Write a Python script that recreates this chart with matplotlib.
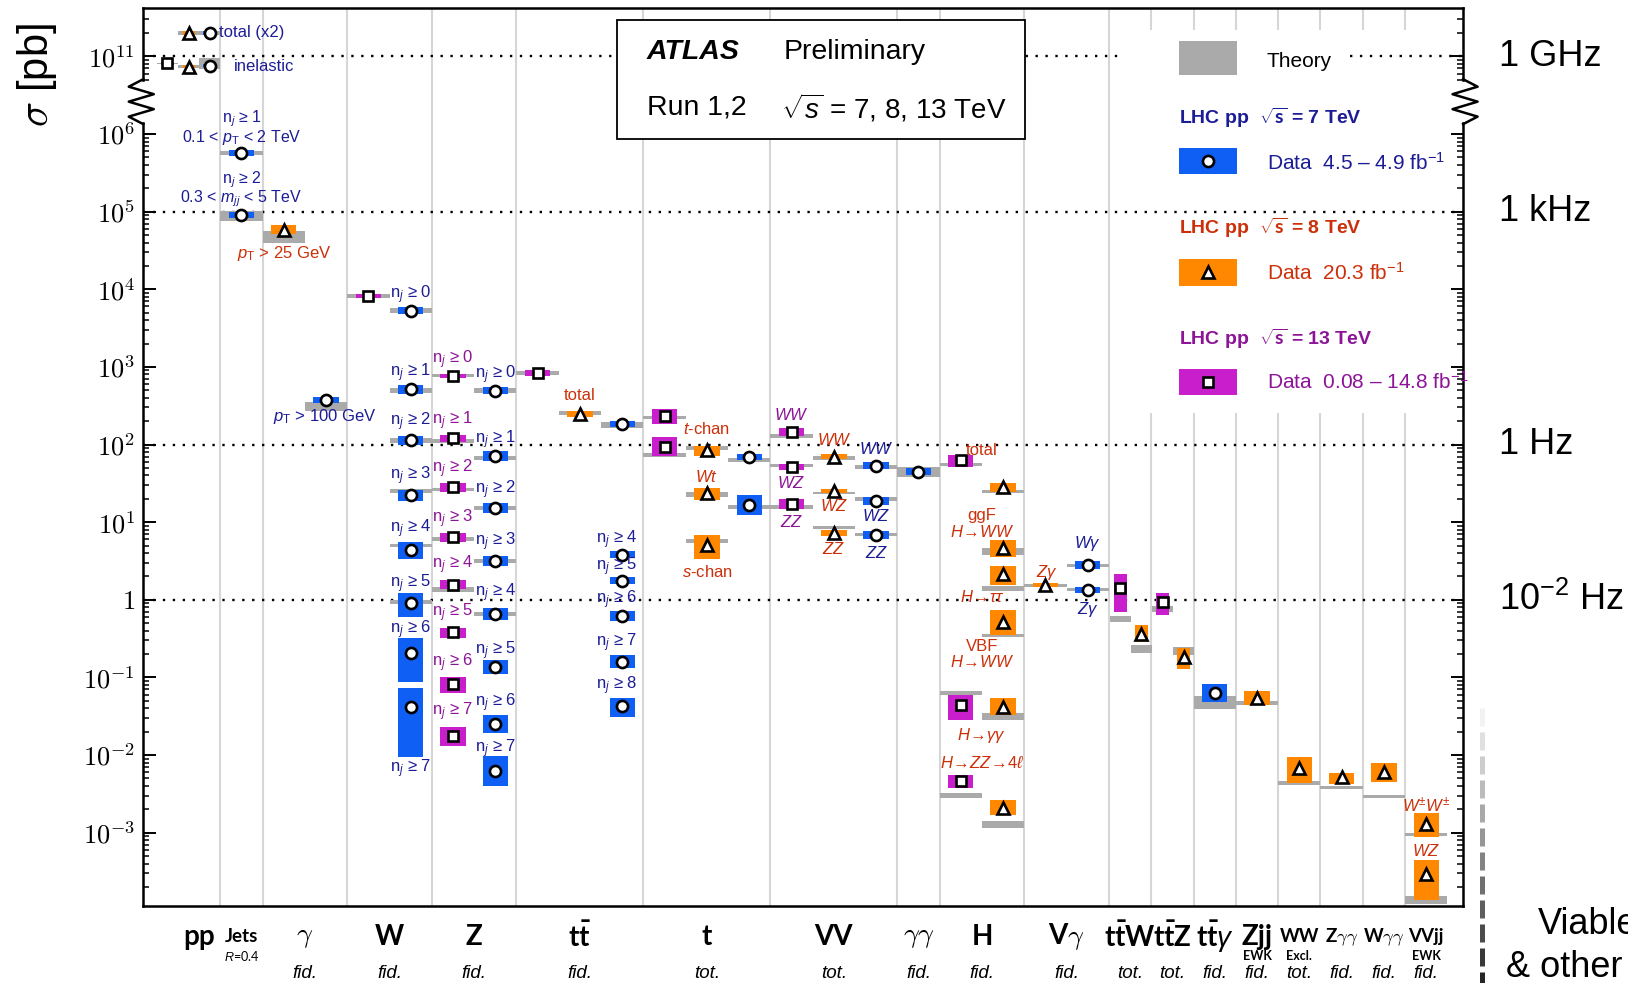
import numpy as np
import matplotlib
matplotlib.use("Agg")
import matplotlib.pyplot as plt
from matplotlib.patches import Rectangle
from matplotlib.lines import Line2D

plt.rcParams['font.family'] = ['Liberation Sans', 'DejaVu Sans']
plt.rcParams['mathtext.fontset'] = 'custom'
plt.rcParams['mathtext.rm'] = 'Liberation Sans'
plt.rcParams['mathtext.it'] = 'Liberation Sans:italic'
plt.rcParams['mathtext.bf'] = 'Lato:bold'

nan = np.nan

# -------------------------
# Data : cross sections in pb (value, data band, theory band)
# -------------------------
# sqrt(s) = 7 TeV (circles)
x7 = [0.75, 0.75, 1.5, 1.5, 3.5,
      5.5, 5.5, 5.5, 5.5, 5.5, 5.5, 5.5, 5.5,
      7.5, 7.5, 7.5, 7.5, 7.5, 7.5, 7.5, 7.5,
      10.5, 10.5, 10.5, 10.5, 10.5, 10.5,
      13.5, 13.5, 16.5, 16.5, 16.5, 17.5, 21.5, 21.5, 24.5]
sig7 = [2.0e11, 7.6e10, 5.7e5, 9.1e4, 376,
        5320, 512, 113, 22.1, 4.32, 0.898, 0.205, 0.0412,
        496, 71.3, 15.3, 3.18, 0.660, 0.137, 0.0252, 0.0063,
        185, 3.82, 1.77, 0.620, 0.160, 0.0425,
        69.1, 16.8, 52.4, 18.9, 6.86, 44.9, 2.81, 1.34, 0.0635]
lo7 = [1.9e11, 7.3e10, 5.24e5, 8.25e4, 343,
       4850, 453, 100, 19.0, 3.38, 0.601, 0.0864, 0.0094,
       453, 61.1, 13.1, 2.72, 0.548, 0.110, 0.0191, 0.00397,
       169, 3.48, 1.61, 0.532, 0.133, 0.0313,
       63.0, 12.3, 47.8, 16.8, 6.06, 40.9, 2.48, 1.22, 0.0481]
hi7 = [2.1e11, 7.9e10, 6.3e5, 9.93e4, 412,
       5830, 579, 128, 25.8, 5.53, 1.22, 0.325, 0.0741,
       545, 83.2, 17.8, 3.70, 0.794, 0.170, 0.0332, 0.0097,
       203, 4.19, 1.94, 0.723, 0.192, 0.0545,
       75.8, 22.1, 59.3, 20.8, 7.76, 49.2, 3.13, 1.47, 0.0813]
th_lo7 = [1.9e11, 6.9e10, 5.4e5, 7.6e4, 268,
          5000, 467, 106, 23.5, 4.74, 0.871, nan, nan,
          467, 63.0, 14.4, 2.98, 0.621, nan, nan, nan,
          164, nan, nan, nan, nan, nan,
          59.3, 14.8, 47.8, 18.9, 6.65, 38.5, 2.64, 1.28, 0.0388]
th_hi7 = [2.1e11, 9.5e10, 6.1e5, 1.02e5, 353,
          5660, 527, 120, 26.6, 5.20, 0.985, nan, nan,
          527, 71.3, 16.3, 3.38, 0.702, nan, nan, nan,
          197, nan, nan, nan, nan, nan,
          67.0, 16.8, 54.0, 20.8, 7.29, 50.8, 2.89, 1.40, 0.0579]

# sqrt(s) = 8 TeV (triangles)
x8 = [0.26, 0.26, 2.5, 9.5, 12.5, 12.5, 12.5, 15.5, 15.5, 15.5,
      19.5, 19.5, 19.5, 19.5, 19.5, 19.5, 20.5, 22.77, 23.77,
      25.5, 26.5, 27.5, 28.5, 29.5, 29.5]
sig8 = [2.0e11, 7.4e10, 5.88e4, 244, 85.7, 23.5, 5.04, 69.1, 25.0, 7.29,
        28.3, 4.59, 2.13, 0.516, 0.0412, 0.00208, 1.54, 0.367, 0.184,
        0.0551, 0.00691, 0.00524, 0.00611, 0.00131, 0.000290]
lo8 = [1.9e11, 7.1e10, 5.20e4, 223, 71.3, 19.5, 3.38, 65.0, 23.5, 6.65,
       24.3, 3.59, 1.55, 0.350, 0.0327, 0.00168, 1.44, 0.283, 0.129,
       0.0439, 0.00435, 0.00430, 0.00456, 0.000867, 0.000135]
hi8 = [2.1e11, 7.7e10, 6.65e4, 268, 95.5, 27.4, 6.86, 75.8, 26.6, 8.0,
       32.0, 5.88, 2.72, 0.735, 0.0536, 0.00262, 1.64, 0.470, 0.239,
       0.0665, 0.0094, 0.00593, 0.00782, 0.00177, 0.000455]
th_lo8 = [1.9e11, 7.1e10, 3.94e4, 237, 85.7, 21.4, 5.36, 63.0, 22.8, 8.12,
          23.5, 3.76, 1.30, 0.330, 0.0281, 0.00116, 1.45, 0.205, 0.192,
          0.0446, 0.00409, 0.00362, 0.00279, 0.000905, 0.000122]
th_hi8 = [2.1e11, 7.7e10, 5.70e4, 268, 97.0, 24.3, 6.06, 71.3, 24.6, 8.91,
          25.8, 4.59, 1.52, 0.367, 0.0343, 0.00144, 1.59, 0.262, 0.246,
          0.0496, 0.00463, 0.00403, 0.00310, 0.00101, 0.000140]

# sqrt(s) = 13 TeV (squares)
x13 = [-0.25, 4.5, 6.5, 6.5, 6.5, 6.5, 6.5, 6.5, 6.5, 6.5,
       8.5, 11.5, 11.5, 14.5, 14.5, 14.5, 18.5, 18.5, 18.5, 22.27, 23.27]
sig13 = [8.1e10, 8190, 764, 120, 28.3, 6.45, 1.56, 0.379, 0.0813, 0.0174,
         838, 230, 94.0, 145, 50.8, 17.3, 63.0, 0.0439, 0.00463, 1.40, 0.940]
lo13 = [7.8e10, 7700, 718, 108, 24.3, 5.53, 1.36, 0.319, 0.0635, 0.0130,
        764, 185, 71.3, 128, 46.7, 14.8, 51.8, 0.0281, 0.00373, 0.702, 0.640]
hi13 = [8.4e10, 8710, 812, 132, 32.0, 7.29, 1.79, 0.429, 0.1007, 0.0230,
        919, 285, 124, 164, 55.7, 19.8, 73.5, 0.0590, 0.00550, 2.13, 1.22]
th_lo13 = [7.9e10, 7700, 741, 106, 25.4, 5.79, 1.26, nan, nan, nan,
           787, 213, 69.1, 122, 50.8, 14.8, 52.4, 0.0597, 0.00283, 0.516, 0.702]
th_hi13 = [8.3e10, 8570, 812, 117, 27.9, 6.35, 1.47, nan, nan, nan,
           891, 233, 76.9, 136, 55.7, 16.5, 58.3, 0.0675, 0.00326, 0.621, 0.844]

# labels next to the points (text, x, y in pb)
nj = lambda k: "n$_j$ ≥ %d" % k
lab_jets = [(nj(1), 1.5, 1.59e6), (r"0.1 < $p_\mathrm{T}$ < 2 TeV", 1.5, 9.1e5),
            (nj(2), 1.5, 2.58e5), (r"0.3 < $m_{jj}$ < 5 TeV", 1.5, 1.48e5)]
lab7 = [(r"$p_\mathrm{T}$ > 100 GeV", 3.47, 230)]
lab7 += [(nj(k), 5.5, y) for k, y in enumerate([8440, 838, 197, 39.7, 8.25, 1.59, 0.416, 0.0067])]
lab7 += [(nj(k), 7.5, y) for k, y in enumerate([783, 117, 26.3, 5.58, 1.23, 0.220, 0.0469, 0.0119])]
lab7 += [(nj(k + 4), 10.36, y) for k, y in enumerate([5.88, 2.66, 1.01, 0.279, 0.0771])]
lab7 += [(r"$WW$", 16.5, 86.3), (r"$WZ$", 16.5, 11.9), (r"$ZZ$", 16.5, 4.02),
         (r"$W\gamma$", 21.5, 5.36), (r"$Z\gamma$", 21.5, 0.753)]

lab8 = [(r"$p_\mathrm{T}$ > 25 GeV", 2.5, 2.9e4), ("total", 9.5, 433),
        (r"$t$-chan", 12.5, 158), (r"$Wt$", 12.5, 38.5), (r"$s$-chan", 12.5, 2.25),
        (r"$WW$", 15.5, 114), (r"$WZ$", 15.5, 16.3), (r"$ZZ$", 15.5, 4.46),
        ("total", 19.0, 84.7), ("ggF", 19.0, 12.3), (r"$H\!\rightarrow\!WW$", 19.0, 7.52),
        (r"$H\!\rightarrow\!\tau\tau$", 19.0, 1.09), ("VBF", 19.0, 0.248),
        (r"$H\!\rightarrow\!WW$", 19.0, 0.158), (r"$H\!\rightarrow\!\gamma\gamma$", 19.0, 0.0180),
        (r"$H\!\rightarrow\!ZZ\!\rightarrow\!4\ell$", 19.0, 0.00782),
        (r"$Z\gamma$", 20.53, 2.23), (r"$W^{\pm}W^{\pm}$", 29.5, 0.00226), (r"$WZ$", 29.5, 0.000577)]

lab13 = [(nj(k), 6.5, y) for k, y in enumerate([1224, 203, 48.2, 11.2, 2.81, 0.687, 0.155, 0.0360])]
lab13 += [(r"$WW$", 14.5, 239), (r"$WZ$", 14.5, 32.1), (r"$ZZ$", 14.5, 9.93)]

# categories on the x axis
cat_x = [0.5, 1.5, 3, 5, 7, 9.5, 12.5, 15.5, 17.5, 19, 21, 22.5, 23.5, 24.5, 25.5, 26.5, 27.5, 28.5, 29.5]
cat_names = ['pp', 'Jets', r'$\gamma$', 'W', 'Z', r'$\mathbf{t\bar{t}}$', 't', 'VV', r'$\gamma\gamma$', 'H',
             r'V$\gamma$', r'$\mathbf{t\bar{t}W}$', r'$\mathbf{t\bar{t}Z}$', r'$\mathbf{t\bar{t}}\gamma$',
             'Zjj', 'WW', r'Z$\gamma\gamma$', r'W$\gamma\gamma$', 'VVjj']
cat_sub = ['', '', 'fid.', 'fid.', 'fid.', 'fid.', 'tot.', 'tot.', 'fid.', 'fid.', 'fid.',
           'tot.', 'tot.', 'fid.', 'fid.', 'tot.', 'fid.', 'fid.', 'fid.']
cat_note = ['', r'$R$=0.4', '', '', '', '', '', '', '', '', '', '', '', '', 'EWK', 'Excl.', '', '', 'EWK']
separators = [1, 2, 4, 6, 8, 11, 14, 17, 18, 20, 22, 23, 24, 25, 26, 27, 28, 29]

# -------------------------
# Styles
# -------------------------
BLUE, ORANGE, MAGENTA, GREY = '#0f5ff5', '#ff8800', '#c91ecb', '#aaaaaa'
NAVY, RED, PURPLE = '#1c1c96', '#cc300a', '#8c1496'

# y axis: log scale with a break between ~10^6.2 and ~10^10.6
LO, HI = 6.22, 10.59
K = (HI - 4 - LO) / (HI - LO)


def fwd(v):
    l = np.log10(np.maximum(v, 1e-30))
    return np.where(l < LO, l, np.where(l > HI, l - 4, LO + (l - LO) * K))


def inv(d):
    d = np.asarray(d, float)
    return 10 ** np.where(d < LO, d, np.where(d > HI - 4, d + 4, LO + (d - LO) / K))


fig = plt.figure(figsize=(16.28, 9.83), dpi=100)
ax = fig.add_axes([0.088, 0.0779, 0.8107, 0.9137])
ax.set_yscale('function', functions=(fwd, inv))
ax.set_xlim(-0.82, 30.37)
ax.set_ylim(10 ** -3.95, 10 ** 11.62)


def draw_set(x, sig, lo, hi, tlo, thi, color, marker, ms):
    x = np.asarray(x, float)
    sig, lo, hi = np.asarray(sig), np.asarray(lo), np.asarray(hi)
    tlo, thi = np.asarray(tlo), np.asarray(thi)
    narrow = (x < 1) | ((x > 22) & (x < 24))
    dw = np.where(narrow, 0.3, 0.6)
    tw = np.where(narrow, 0.5, 1.0)
    ok = ~np.isnan(tlo)
    ax.bar(x[ok], thi[ok] - tlo[ok], bottom=tlo[ok], width=tw[ok], color=GREY, lw=0, zorder=3)
    ax.bar(x, hi - lo, bottom=lo, width=dw, color=color, lw=0, zorder=4)
    ax.plot(x, sig, ls='none', marker=marker, ms=ms, mfc='white', mec='black', mew=1.9, zorder=6)


draw_set(x7, sig7, lo7, hi7, th_lo7, th_hi7, BLUE, 'o', 8)
draw_set(x8, sig8, lo8, hi8, th_lo8, th_hi8, ORANGE, '^', 8.5)
draw_set(x13, sig13, lo13, hi13, th_lo13, th_hi13, MAGENTA, 's', 7)

# column separators
for s in separators:
    ax.axvline(s, color='#d6d6d6', lw=1.5, zorder=1)

# dotted rate lines
dot = dict(color='black', lw=1.7, ls=(0, (1, 3.2)), zorder=2)
ax.hlines(1e11, -0.82, 22.3, **dot)
ax.hlines(1e11, 27.7, 30.37, **dot)
for yv in [1e5, 1e2, 1]:
    ax.axhline(yv, **dot)

# labels
for items, col, fs in [(lab_jets, NAVY, 11.5), (lab7, NAVY, 12), (lab8, RED, 12), (lab13, PURPLE, 12)]:
    for txt, xx, yy in items:
        ax.text(xx, yy, txt, color=col, fontsize=fs, ha='center', va='center', zorder=7)
ax.text(0.975, 2.05e11, "total (x2)", color=NAVY, fontsize=12, ha='left', va='center')
ax.text(1.31, 7.4e10, "inelastic", color=NAVY, fontsize=12, ha='left', va='center')

# y ticks
majors = [1e-3, 1e-2, 1e-1, 1, 1e1, 1e2, 1e3, 1e4, 1e5, 1e6, 1e11]
maj_lab = [r'$10^{-3}$', r'$10^{-2}$', r'$10^{-1}$', r'$1$', r'$10^{1}$', r'$10^{2}$',
           r'$10^{3}$', r'$10^{4}$', r'$10^{5}$', r'$10^{6}$', r'$10^{11}$']
ax.set_yticks(majors, maj_lab, fontsize=19, math_fontfamily='cm')
minors = [m * 10.0 ** k for k in range(-4, 12) for m in range(2, 10)]
minors = [v for v in minors if (10 ** -3.95 < v < 10 ** 11.6)
          and not (10 ** 6.2 < v < 10 ** 10.6)]
ax.set_yticks(minors, minor=True)
ax.tick_params(axis='y', which='both', direction='in', left=True, right=True, labelright=False)
ax.tick_params(axis='y', which='major', length=9, width=1.4, pad=6)
ax.tick_params(axis='y', which='minor', length=4.5, width=1.1)
ax.set_xticks([])
for sp in ax.spines.values():
    sp.set_linewidth(1.8)

# axis break zigzags
for x0, sgn in [(0.0, -1), (1.0, 1)]:
    ax.add_patch(Rectangle((x0 - 0.006, 0.874), 0.012, 0.044, transform=ax.transAxes,
                           color='white', zorder=20, clip_on=False))
    zx = x0 + sgn * np.array([0, 0.011, -0.008, 0.011, -0.008, 0.011, 0])
    zy = np.linspace(0.921, 0.871, 7)
    ax.add_line(Line2D(zx, zy, transform=ax.transAxes, color='black', lw=1.8,
                       zorder=21, clip_on=False))

# category labels
trans = ax.get_xaxis_transform()
for cx, name, sub, note in zip(cat_x, cat_names, cat_sub, cat_note):
    small = name in ['Jets', 'WW', r'Z$\gamma\gamma$', r'W$\gamma\gamma$', 'VVjj']
    size = 13.5 if small else 20
    mf = 'cm' if ('gamma' in name and 'bar' not in name) else 'custom'
    ax.text(cx, -0.034, name, transform=trans, ha='center', va='center', fontsize=size,
            family='Lato', weight='bold', math_fontfamily=mf)
    if sub:
        ax.text(cx, -0.075, sub, transform=trans, ha='center', va='center', fontsize=13.5,
                style='italic')
    if note:
        ax.text(cx, -0.055, note, transform=trans, ha='center', va='center',
                fontsize=9, family='Lato', weight='bold' if 'R' not in note else 'normal')

# y label
fig.text(0.023, 0.924, r'$\sigma$ [pb]', rotation=90, ha='center', va='center',
         fontsize=30, math_fontfamily='cm')

# ATLAS box
ax.add_patch(Rectangle((0.3588, 0.854), 0.3092, 0.133, transform=ax.transAxes,
                       facecolor='white', edgecolor='black', lw=1.3, zorder=10))
ax.text(0.3816, 0.951, 'ATLAS', transform=ax.transAxes, fontsize=20.5, weight='bold',
        style='italic', va='center', zorder=11)
ax.text(0.4854, 0.951, 'Preliminary', transform=ax.transAxes, fontsize=20.5, va='center', zorder=11)
ax.text(0.3816, 0.889, 'Run 1,2', transform=ax.transAxes, fontsize=20.5, va='center', zorder=11)
ax.text(0.483, 0.889, r'$\sqrt{s}$ = 7, 8, 13 TeV', transform=ax.transAxes, fontsize=20,
        va='center', zorder=11)

# legend
ax.add_patch(Rectangle((0.737, 0.549), 0.258, 0.427, transform=ax.transAxes,
                       facecolor='white', edgecolor='none', zorder=1.5))
ax.add_patch(Rectangle((0.7844, 0.926), 0.0441, 0.037, transform=ax.transAxes,
                       facecolor=GREY, edgecolor='none', zorder=5))
ax.text(0.8513, 0.941, 'Theory', transform=ax.transAxes, fontsize=15, va='center', zorder=5)
leg = [(0.8775, 0.815, 0.8277, NAVY, BLUE, 'o', 8, '7', r'4.5 – 4.9'),
       (0.7549, 0.6913, 0.7052, RED, ORANGE, '^', 8.5, '8', r'20.3'),
       (0.6324, 0.5699, 0.5838, PURPLE, MAGENTA, 's', 7, '13', r'0.08 – 14.8')]
for ty, by, dy, tc, bc, mk, ms, e, lumi in leg:
    ax.text(0.785, ty, r'LHC pp  $\sqrt{\mathbf{s}}$ = ' + e + ' TeV', transform=ax.transAxes,
            fontsize=14, weight='bold', color=tc, va='center', zorder=5)
    ax.add_patch(Rectangle((0.7844, by), 0.0441, 0.029, transform=ax.transAxes,
                           facecolor=bc, edgecolor='none', zorder=5))
    ax.plot([0.8065], [by + 0.0145], transform=ax.transAxes, marker=mk, ms=ms, mfc='white',
            mec='black', mew=1.9, zorder=6, clip_on=False)
    ax.text(0.8513, dy, 'Data  ' + lumi + r' fb$^{-1}$', transform=ax.transAxes, fontsize=15,
            color=tc, va='center', zorder=5)

# rate labels on the right
for yv, txt in [(1e11, '1 GHz'), (1e5, '1 kHz'), (1e2, '1 Hz'), (1, r'10$^{-2}$ Hz')]:
    ax.text(1.027, yv, txt, transform=ax.get_yaxis_transform(), fontsize=26, va='center')

fig.text(0.9446, 0.060, 'Viable', fontsize=26, va='center')
fig.text(0.9248, 0.016, '& other', fontsize=26, va='center')

# dashed grey gradient line
greys = np.linspace(0.95, 0.15, 12)
for i, g in enumerate(greys):
    top = 708 + 24 * i
    fig.add_artist(Line2D([0.9103, 0.9103], [1 - top / 983, 1 - (top + 18) / 983],
                          transform=fig.transFigure, color=str(g), lw=3.6,
                          solid_capstyle='butt'))

fig.savefig('out.png', dpi=100)
